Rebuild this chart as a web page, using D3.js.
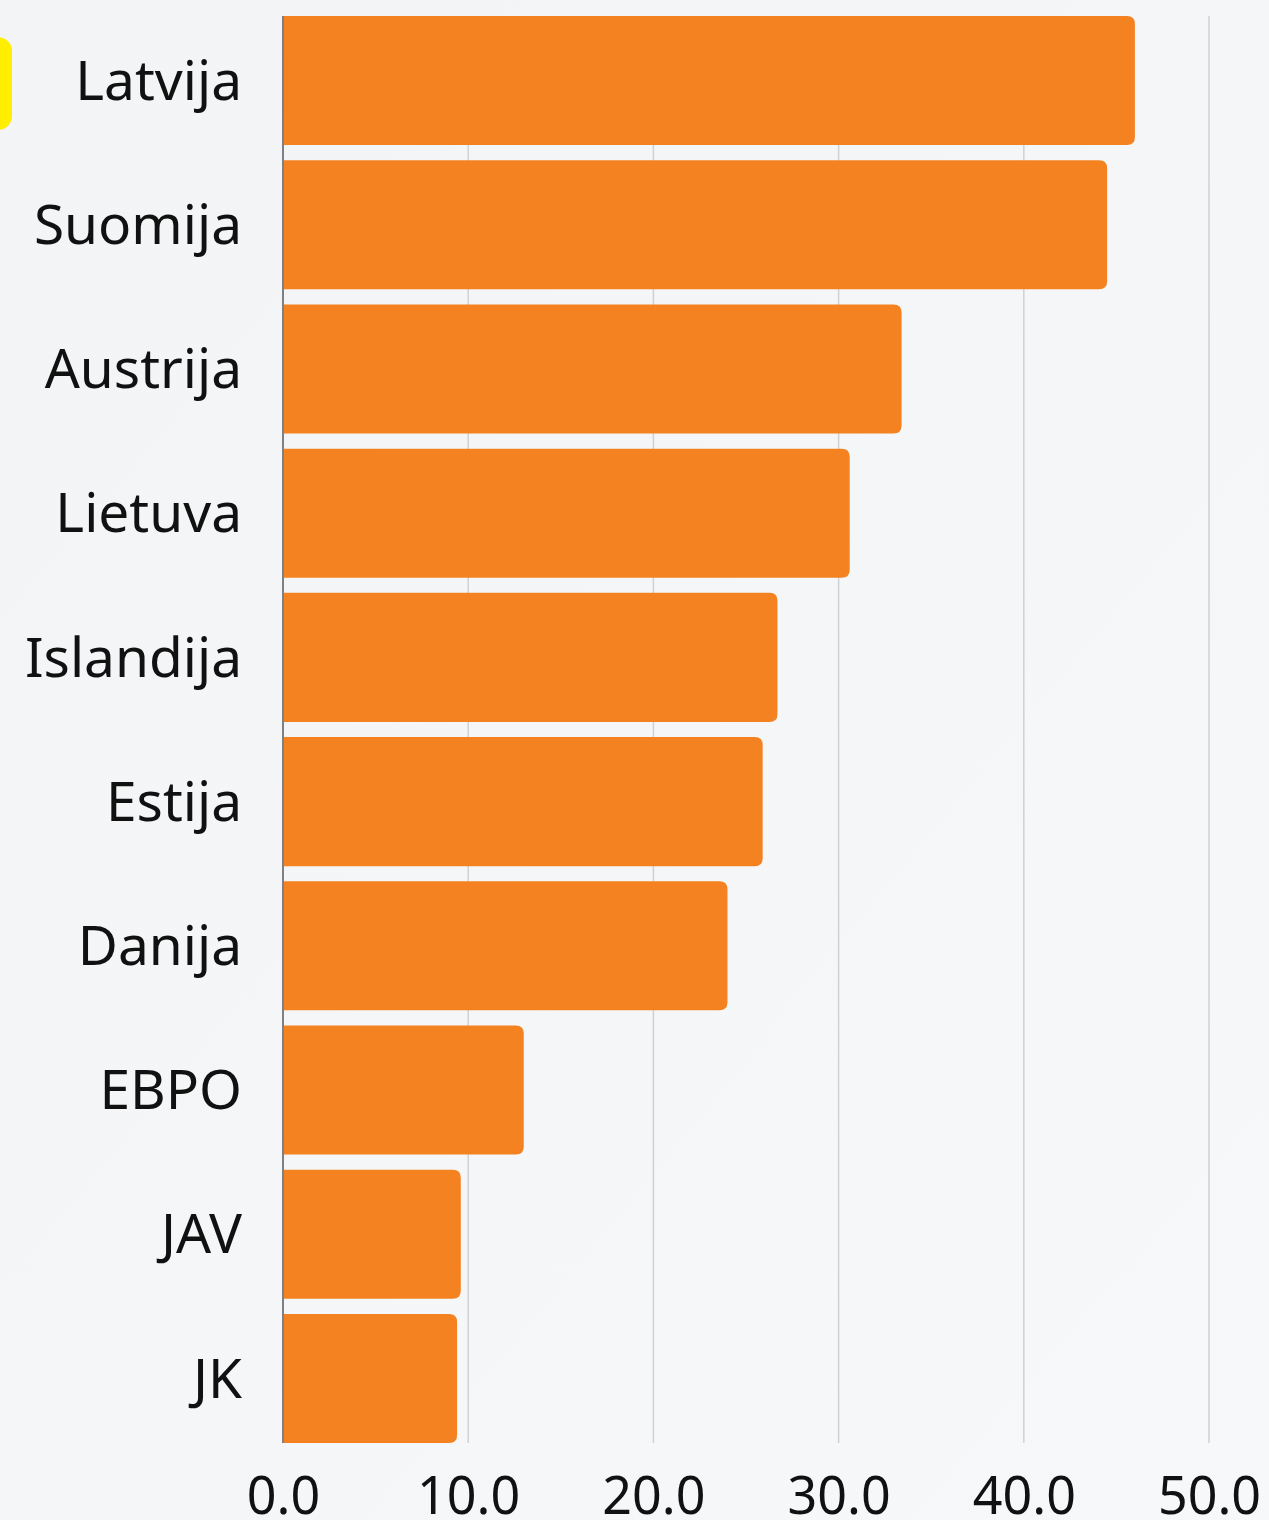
<!DOCTYPE html>
<html>
<head>
<meta charset="utf-8">
<script src="https://cdn.jsdelivr.net/npm/d3@7"></script>
<style>
  html, body { margin: 0; padding: 0; }
  body { width: 1269px; height: 1520px; overflow: hidden; background: #f4f5f6; }
  svg { display: block; font-family: "Noto Sans", "Open Sans", sans-serif; }
</style>
</head>
<body>
<script>
const countries = ["Latvija", "Suomija", "Austrija", "Lietuva", "Islandija", "Estija", "Danija", "EBPO", "JAV", "JK"];
const values = [46.0, 44.5, 33.4, 30.6, 26.7, 25.9, 24.0, 13.0, 9.6, 9.4];
const ticks = [0, 10, 20, 30, 40, 50];

const width = 1269;
const height = 1520;
const plotLeft = 283;
const plotRight = 1209;
const plotTop = 16;
const plotBottom = 1443;

const dataset = countries.map((c, i) => ({ name: c, value: values[i] }));

const svg = d3.select("body")
  .append("svg")
  .attr("width", width)
  .attr("height", height);

// soft background gradient
const defs = svg.append("defs");
const grad = defs.append("linearGradient")
  .attr("id", "bg")
  .attr("x1", "0").attr("y1", "0")
  .attr("x2", "1").attr("y2", "1");
grad.append("stop").attr("offset", "0").attr("stop-color", "#f3f4f5");
grad.append("stop").attr("offset", "1").attr("stop-color", "#f7f8f9");

svg.append("rect")
  .attr("width", width)
  .attr("height", height)
  .attr("fill", "url(#bg)");

const xScale = d3.scaleLinear()
  .domain([0, 50])
  .range([plotLeft, plotRight]);

const yScale = d3.scaleBand()
  .domain(countries)
  .range([plotTop, plotBottom])
  .paddingInner(0.105)
  .paddingOuter(0);

// highlight marker for first row
svg.append("rect")
  .attr("x", -30)
  .attr("y", yScale("Latvija") + 21)
  .attr("width", 42)
  .attr("height", 93)
  .attr("rx", 14)
  .attr("fill", "#ffee00");

// grid
svg.append("g")
  .selectAll("line")
  .data(ticks.filter((t) => t > 0))
  .enter()
  .append("line")
  .attr("x1", (d) => xScale(d))
  .attr("x2", (d) => xScale(d))
  .attr("y1", plotTop)
  .attr("y2", plotBottom)
  .attr("stroke", "#cfd1d3")
  .attr("stroke-width", 1.5);

// zero line
svg.append("line")
  .attr("x1", xScale(0))
  .attr("x2", xScale(0))
  .attr("y1", plotTop)
  .attr("y2", plotBottom)
  .attr("stroke", "#555a60")
  .attr("stroke-width", 1.5);

// bars: square on the left, rounded on the right
const r = 8;
svg.append("g")
  .selectAll("path")
  .data(dataset)
  .enter()
  .append("path")
  .attr("fill", "#f58220")
  .attr("d", (d) => {
    const x0 = xScale(0) + 1;
    const x1 = xScale(d.value);
    const y0 = yScale(d.name);
    const y1 = y0 + yScale.bandwidth();
    return `M${x0},${y0} H${x1 - r} Q${x1},${y0} ${x1},${y0 + r} V${y1 - r} Q${x1},${y1} ${x1 - r},${y1} H${x0} Z`;
  });

// category labels
svg.append("g")
  .selectAll("text")
  .data(countries)
  .enter()
  .append("text")
  .attr("x", 242)
  .attr("y", (d) => yScale(d) + yScale.bandwidth() / 2)
  .attr("dy", "0.35em")
  .attr("text-anchor", "end")
  .attr("fill", "#111")
  .style("font-size", "55px")
  .text((d) => d);

// x axis labels
const xAxis = d3.axisBottom(xScale)
  .tickValues(ticks)
  .tickSize(0)
  .tickPadding(0)
  .tickFormat(d3.format(".1f"));

const gx = svg.append("g")
  .attr("transform", `translate(0, ${plotBottom + 34})`)
  .call(xAxis);
gx.select(".domain").remove();
gx.selectAll("text")
  .attr("fill", "#111")
  .attr("dy", "0.71em")
  .style("font-size", "52px")
  .style("font-family", "'Noto Sans', sans-serif");
</script>
</body>
</html>
